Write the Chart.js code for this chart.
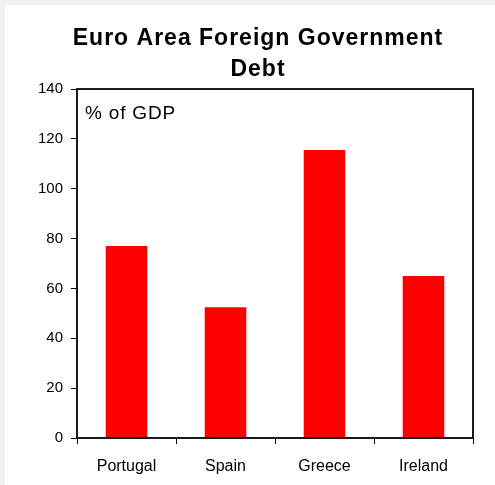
<!DOCTYPE html>
<html>
<head>
<meta charset="utf-8">
<script src="https://cdn.jsdelivr.net/npm/chart.js@4/dist/chart.umd.min.js"></script>
<style>
  html, body { margin: 0; padding: 0; background: #f2f2f2; }
  #wrap { position: absolute; left: 5px; top: 5px; width: 490px; height: 480px; background: #fff; }
</style>
</head>
<body>
<div id="wrap"><canvas id="debtChart" width="490" height="480"></canvas></div>
<script>
const countries = ['Portugal', 'Spain', 'Greece', 'Ireland'];
const debtPctGdp = [77, 52.5, 115.5, 65];
const yTicks = [0, 20, 40, 60, 80, 100, 120, 140];
const titleLines = ['Euro Area Foreign Government', 'Debt'];
const unitNote = '% of GDP';

const FONT = '"Liberation Sans", Arial, sans-serif';

// frame round the plot, the unit note and the spaced-out title
const framePlugin = {
    id: 'frame',
    afterDatasetsDraw(chart) {
        const { ctx, chartArea: a } = chart;
        ctx.save();
        ctx.strokeStyle = '#1a1a1a';
        ctx.lineWidth = 2;
        ctx.strokeRect(a.left, a.top, a.right - a.left, a.bottom - a.top);
        ctx.fillStyle = '#000';
        ctx.font = '19px ' + FONT;
        ctx.letterSpacing = '0.8px';
        ctx.textBaseline = 'middle';
        ctx.fillText(unitNote, a.left + 8, a.top + 25);

        ctx.font = 'bold 23px ' + FONT;
        ctx.letterSpacing = '1px';
        ctx.textAlign = 'center';
        ctx.textBaseline = 'alphabetic';
        titleLines.forEach((line, i) => ctx.fillText(line, 253, 40 + i * 31));
        ctx.restore();
    }
};

new Chart(document.getElementById('debtChart'), {
    type: 'bar',
    data: {
        labels: countries,
        datasets: [{
            data: debtPctGdp,
            backgroundColor: '#ff0000',
            borderWidth: 0,
            barPercentage: 0.42,
            categoryPercentage: 1
        }]
    },
    options: {
        responsive: false,
        animation: false,
        layout: { padding: { top: 84, left: 10, right: 22, bottom: 0 } },
        plugins: {
            legend: { display: false },
            tooltip: { enabled: false },
            title: { display: false }
        },
        scales: {
            x: {
                grid: { drawOnChartArea: false, drawTicks: true, tickLength: 6, color: '#000', offset: true },
                border: { display: true, color: '#1a1a1a', width: 2 },
                ticks: { color: '#000', font: { family: FONT, size: 16 }, padding: 13 },
                afterFit(scale) { scale.height = 47; }
            },
            y: {
                min: 0,
                max: 140,
                afterBuildTicks(scale) { scale.ticks = yTicks.map(v => ({ value: v })); },
                grid: { drawOnChartArea: false, drawTicks: true, tickLength: 6, color: '#000' },
                border: { display: true, color: '#1a1a1a', width: 2 },
                ticks: { color: '#000', font: { family: FONT, size: 15 }, padding: 8 },
                afterFit(scale) { scale.width = 62; }
            }
        }
    },
    plugins: [framePlugin]
});
</script>
</body>
</html>
